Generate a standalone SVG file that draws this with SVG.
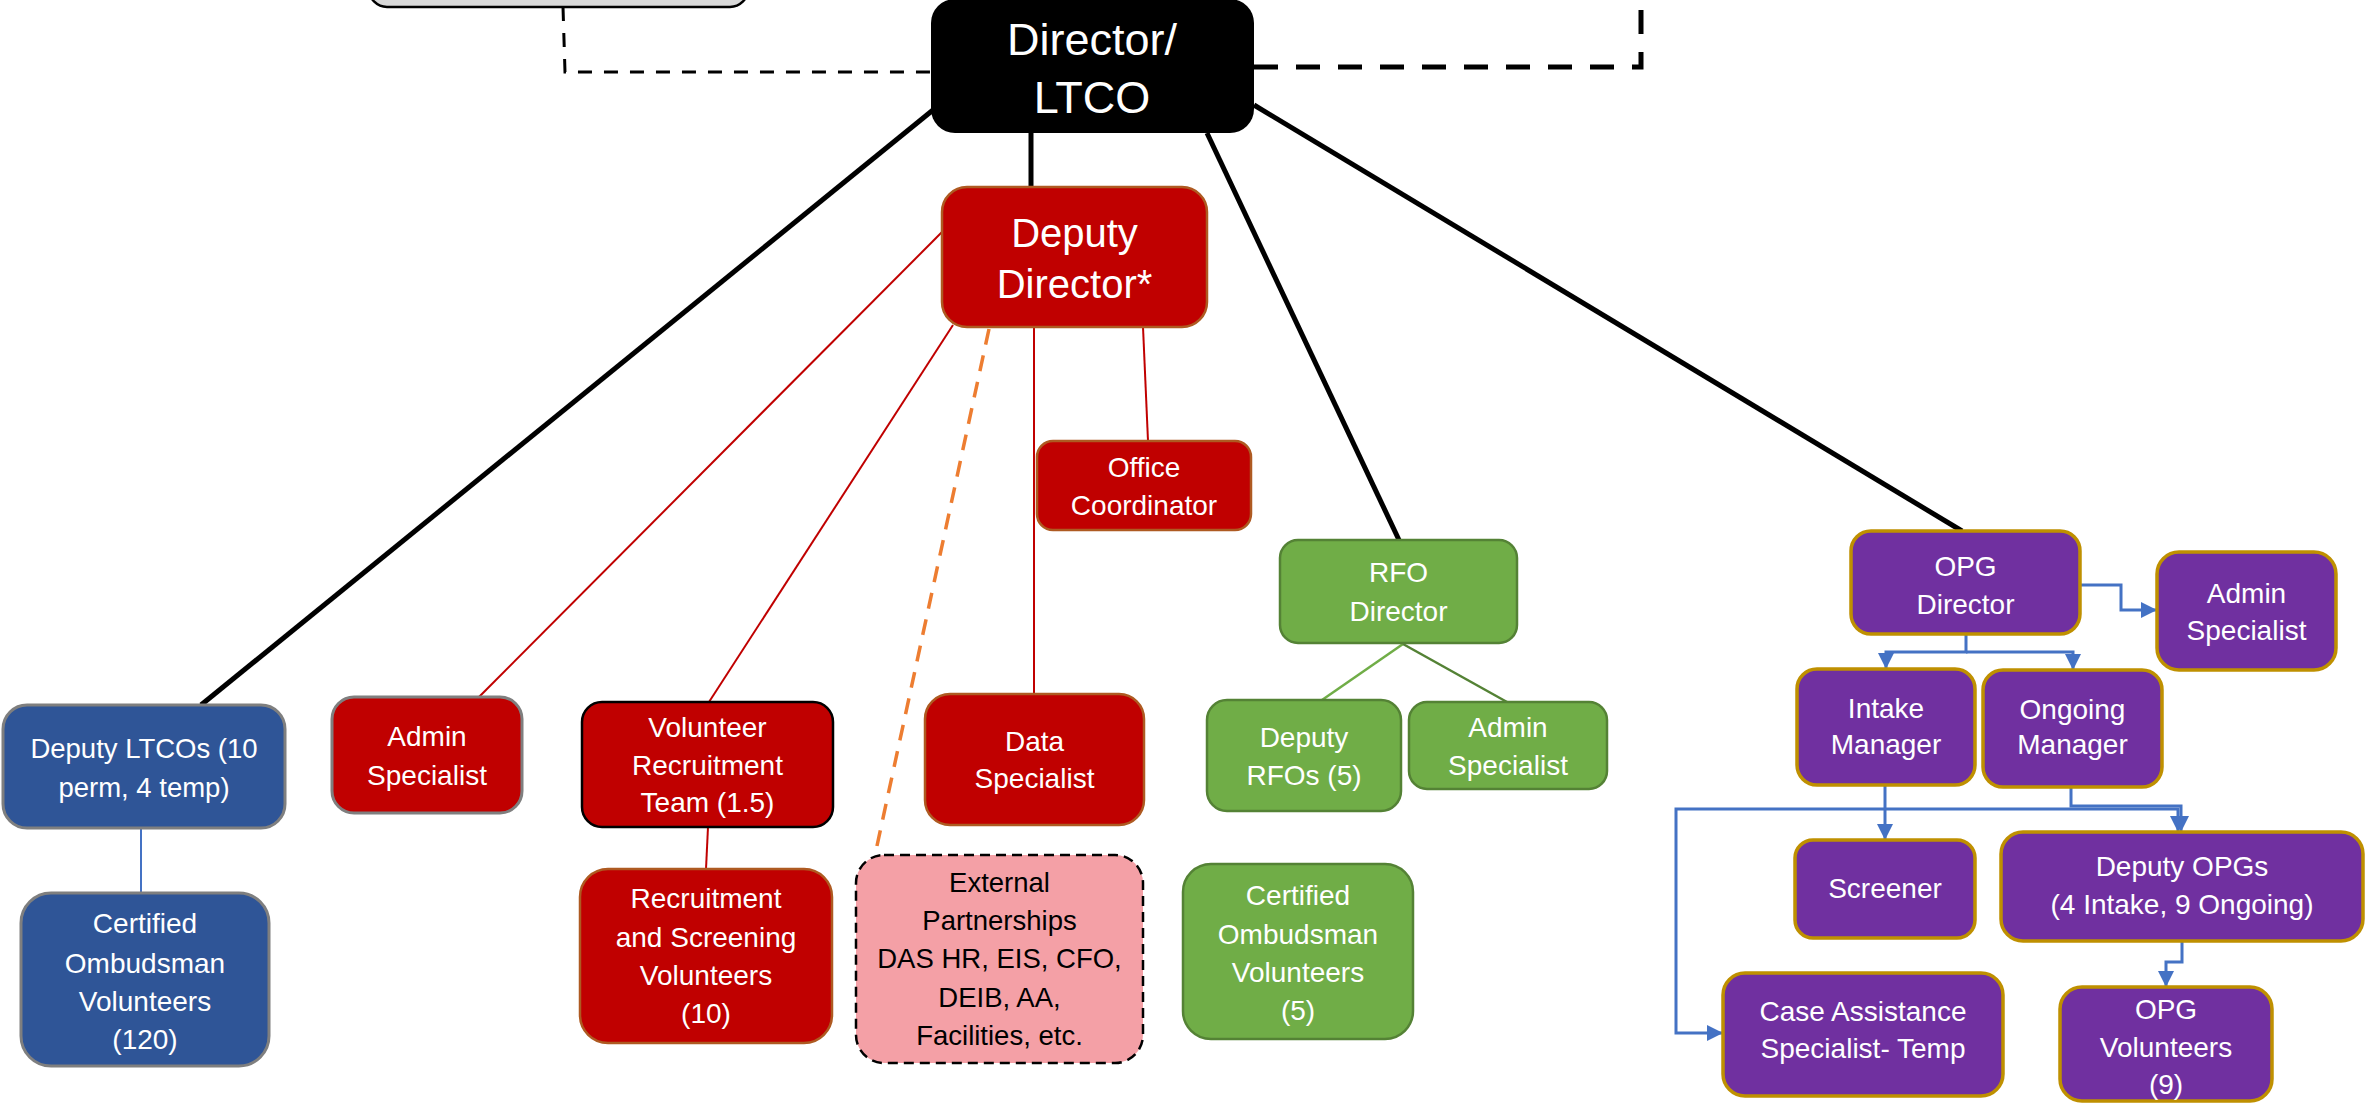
<svg xmlns="http://www.w3.org/2000/svg" width="2366" height="1109" viewBox="0 0 2366 1109">
<style>
  text { font-family: "Liberation Sans", Arial, sans-serif; text-anchor: middle; fill: #ffffff; }
  .t28 { font-size: 28px; }
  .t27 { font-size: 27.5px; }
  .dark { fill: #000000; }
  .red { fill: #c00000; stroke: #ae5a21; stroke-width: 2.5; }
  .blue { fill: #2f5597; stroke: #7f7f7f; stroke-width: 3; }
  .green { fill: #70ad47; stroke: #548235; stroke-width: 2.5; }
  .purple { fill: #7030a0; stroke: #bf9000; stroke-width: 3.5; }
  .blk { stroke: #000000; stroke-width: 5; fill: none; }
  .rl { stroke: #c00000; stroke-width: 2; fill: none; }
  .ar { stroke: #4472c4; stroke-width: 3; fill: none; }
</style>
<defs>
  <marker id="ah" markerUnits="userSpaceOnUse" markerWidth="17" markerHeight="17" refX="16" refY="8" orient="auto">
    <path d="M0,0 L16,8 L0,16 z" fill="#4472c4"/>
  </marker>
</defs>
<rect width="2366" height="1109" fill="#ffffff"/>

<g id="connectors">
  <path d="M563,7 L565,72 L931,72" stroke="#000" stroke-width="3" stroke-dasharray="14 12" fill="none"/>
  <path d="M1254,67 L1641,67 L1641,0" stroke="#000" stroke-width="5" stroke-dasharray="24 18" fill="none"/>
  <path class="blk" d="M933,110 L201,705"/>
  <path class="blk" d="M1031,133 L1031,187"/>
  <path class="blk" d="M1207,133 L1399,540"/>
  <path class="blk" d="M1254,105 L1962,531"/>
  <path class="rl" d="M942,232 L479,697"/>
  <path class="rl" d="M953,325 L709,702"/>
  <path class="rl" d="M1034,327 L1034,694"/>
  <path class="rl" d="M1143,327 L1148,441"/>
  <path class="rl" d="M708,827 L706,869"/>
  <path d="M989,329 L875,855" stroke="#ed7d31" stroke-width="3.5" stroke-dasharray="16 11" fill="none"/>
  <path d="M141,828 L141,893" stroke="#4472c4" stroke-width="2" fill="none"/>
  <path d="M1403,644 L1322,700" stroke="#70ad47" stroke-width="2.5" fill="none"/>
  <path d="M1403,644 L1507,702" stroke="#548235" stroke-width="2.5" fill="none"/>
  <path class="ar" d="M2080,585 H2121 V610 H2157" marker-end="url(#ah)"/>
  <path class="ar" d="M1966,634 V652 H1886 V669" marker-end="url(#ah)"/>
  <path class="ar" d="M1966,652 H2073 V670" marker-end="url(#ah)"/>
  <path class="ar" d="M1885,785 V840" marker-end="url(#ah)"/>
  <path class="ar" d="M1885,809 H1676 V1033 H1723" marker-end="url(#ah)"/>
  <path class="ar" d="M1885,809 H2178 V832" marker-end="url(#ah)"/>
  <path class="ar" d="M2071,787 V806 H2181 V832" marker-end="url(#ah)"/>
  <path class="ar" d="M2182,941 V962 H2166 V987" marker-end="url(#ah)"/>
</g>

<g id="n-top-box">
  <rect x="369" y="-40" width="379" height="47" rx="18" fill="#d9d9d9" stroke="#000" stroke-width="2.5"/>
</g>

<g id="n-director">
  <rect x="931" y="-1" width="323" height="134" rx="24" fill="#000000"/>
  <text x="1092" y="55" font-size="45">Director/</text>
  <text x="1092" y="113" font-size="45">LTCO</text>
</g>

<g id="n-deputy-director">
  <rect class="red" x="942" y="187" width="265" height="140" rx="25"/>
  <text x="1074.5" y="247" font-size="40">Deputy</text>
  <text x="1074.5" y="298" font-size="40">Director*</text>
</g>

<g id="n-office-coordinator">
  <rect class="red" x="1037" y="441" width="214" height="89" rx="16"/>
  <text class="t28" x="1144" y="477">Office</text>
  <text class="t28" x="1144" y="515">Coordinator</text>
</g>

<g id="n-admin-red">
  <rect x="332" y="697" width="190" height="116" rx="22" fill="#c00000" stroke="#7f7f7f" stroke-width="3"/>
  <text class="t28" x="427" y="746">Admin</text>
  <text class="t28" x="427" y="785">Specialist</text>
</g>

<g id="n-volunteer-recruitment">
  <rect x="582" y="702" width="251" height="125" rx="20" fill="#c00000" stroke="#000" stroke-width="2.5"/>
  <text class="t28" x="707.5" y="737">Volunteer</text>
  <text class="t28" x="707.5" y="775">Recruitment</text>
  <text class="t28" x="707.5" y="812">Team (1.5)</text>
</g>

<g id="n-recruitment-screening">
  <rect class="red" x="580" y="869" width="252" height="174" rx="28"/>
  <text class="t28" x="706" y="908">Recruitment</text>
  <text class="t28" x="706" y="947">and Screening</text>
  <text class="t28" x="706" y="985">Volunteers</text>
  <text class="t28" x="706" y="1023">(10)</text>
</g>

<g id="n-data-specialist">
  <rect class="red" x="925" y="694" width="219" height="131" rx="25"/>
  <text class="t28" x="1034.5" y="751">Data</text>
  <text class="t28" x="1034.5" y="788">Specialist</text>
</g>

<g id="n-external">
  <rect x="856" y="855" width="287" height="208" rx="28" fill="#f4a0a6" stroke="#000" stroke-width="2.5" stroke-dasharray="10 6"/>
  <text class="t27 dark" x="999.5" y="892">External</text>
  <text class="t27 dark" x="999.5" y="930">Partnerships</text>
  <text class="t27 dark" x="999.5" y="968">DAS HR, EIS, CFO,</text>
  <text class="t27 dark" x="999.5" y="1007">DEIB, AA,</text>
  <text class="t27 dark" x="999.5" y="1045">Facilities, etc.</text>
</g>

<g id="n-deputy-ltcos">
  <rect class="blue" x="3" y="705" width="282" height="123" rx="24"/>
  <text class="t27" x="144" y="758">Deputy LTCOs (10</text>
  <text class="t27" x="144" y="797">perm, 4 temp)</text>
</g>

<g id="n-certified-blue">
  <rect class="blue" x="21" y="893" width="248" height="173" rx="30"/>
  <text class="t28" x="145" y="933">Certified</text>
  <text class="t28" x="145" y="973">Ombudsman</text>
  <text class="t28" x="145" y="1011">Volunteers</text>
  <text class="t28" x="145" y="1049">(120)</text>
</g>

<g id="n-rfo-director">
  <rect class="green" x="1280" y="540" width="237" height="103" rx="18"/>
  <text class="t28" x="1398.5" y="582">RFO</text>
  <text class="t28" x="1398.5" y="621">Director</text>
</g>

<g id="n-deputy-rfos">
  <rect class="green" x="1207" y="700" width="194" height="111" rx="20"/>
  <text class="t28" x="1304" y="747">Deputy</text>
  <text class="t28" x="1304" y="785">RFOs (5)</text>
</g>

<g id="n-admin-green">
  <rect class="green" x="1409" y="702" width="198" height="87" rx="18"/>
  <text class="t28" x="1508" y="737">Admin</text>
  <text class="t28" x="1508" y="775">Specialist</text>
</g>

<g id="n-certified-green">
  <rect class="green" x="1183" y="864" width="230" height="175" rx="28"/>
  <text class="t28" x="1298" y="905">Certified</text>
  <text class="t28" x="1298" y="944">Ombudsman</text>
  <text class="t28" x="1298" y="982">Volunteers</text>
  <text class="t28" x="1298" y="1020">(5)</text>
</g>

<g id="n-opg-director">
  <rect class="purple" x="1851" y="531" width="229" height="103" rx="20"/>
  <text class="t28" x="1965.5" y="576">OPG</text>
  <text class="t28" x="1965.5" y="614">Director</text>
</g>

<g id="n-admin-purple">
  <rect class="purple" x="2157" y="552" width="179" height="118" rx="22"/>
  <text class="t28" x="2246.5" y="603">Admin</text>
  <text class="t28" x="2246.5" y="640">Specialist</text>
</g>

<g id="n-intake-manager">
  <rect class="purple" x="1797" y="669" width="178" height="116" rx="20"/>
  <text class="t28" x="1886" y="718">Intake</text>
  <text class="t28" x="1886" y="754">Manager</text>
</g>

<g id="n-ongoing-manager">
  <rect class="purple" x="1983" y="670" width="179" height="117" rx="20"/>
  <text class="t28" x="2072.5" y="719">Ongoing</text>
  <text class="t28" x="2072.5" y="754">Manager</text>
</g>

<g id="n-screener">
  <rect class="purple" x="1795" y="840" width="180" height="98" rx="18"/>
  <text class="t28" x="1885" y="898">Screener</text>
</g>

<g id="n-deputy-opgs">
  <rect class="purple" x="2001" y="832" width="362" height="109" rx="22"/>
  <text class="t28" x="2182" y="876">Deputy OPGs</text>
  <text class="t28" x="2182" y="914">(4 Intake, 9 Ongoing)</text>
</g>

<g id="n-case-assistance">
  <rect class="purple" x="1723" y="973" width="280" height="123" rx="22"/>
  <text class="t28" x="1863" y="1021">Case Assistance</text>
  <text class="t28" x="1863" y="1058">Specialist- Temp</text>
</g>

<g id="n-opg-volunteers">
  <rect class="purple" x="2060" y="987" width="212" height="114" rx="22"/>
  <text class="t28" x="2166" y="1019">OPG</text>
  <text class="t28" x="2166" y="1057">Volunteers</text>
  <text class="t28" x="2166" y="1094">(9)</text>
</g>
</svg>
